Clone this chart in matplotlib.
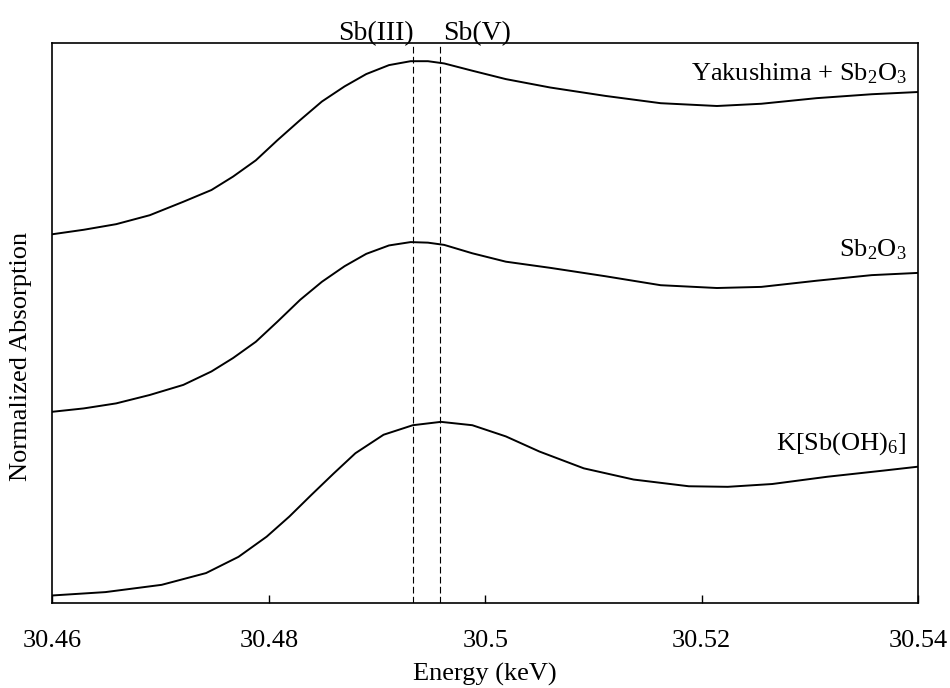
import numpy as np
import matplotlib
matplotlib.use("Agg")
import matplotlib.pyplot as plt
import matplotlib.transforms as mtransforms

# ========================
# DATA
# ========================
energy = [30.4600, 30.4629, 30.4659, 30.4690, 30.4721, 30.4747, 30.4767, 30.4788,
          30.4808, 30.4829, 30.4849, 30.4870, 30.4890, 30.4911, 30.4931, 30.4947,
          30.4962, 30.4988, 30.5019, 30.5060, 30.5111, 30.5162, 30.5214, 30.5255,
          30.5306, 30.5357, 30.5400]

yaku_A = [0.659, 0.667, 0.677, 0.693, 0.717, 0.738, 0.762, 0.791,
          0.827, 0.863, 0.896, 0.923, 0.945, 0.961, 0.968, 0.968,
          0.964, 0.951, 0.936, 0.921, 0.906, 0.893, 0.888, 0.892,
          0.902, 0.909, 0.913]

sb2o3_A = [0.342, 0.348, 0.357, 0.372, 0.390, 0.414, 0.438, 0.467,
           0.503, 0.542, 0.574, 0.602, 0.624, 0.639, 0.645, 0.644,
           0.640, 0.625, 0.610, 0.599, 0.584, 0.568, 0.563, 0.565,
           0.576, 0.586, 0.590]

ksb_E = [30.4600, 30.4649, 30.4701, 30.4742, 30.4772, 30.4798, 30.4819, 30.4839,
         30.4860, 30.4880, 30.4906, 30.4933, 30.4959, 30.4988, 30.5019, 30.5050,
         30.5091, 30.5137, 30.5188, 30.5224, 30.5265, 30.5316, 30.5368, 30.5400]
ksb_A = [0.014, 0.020, 0.033, 0.054, 0.083, 0.119, 0.155, 0.193,
         0.232, 0.268, 0.301, 0.318, 0.324, 0.318, 0.298, 0.271,
         0.241, 0.221, 0.209, 0.208, 0.213, 0.226, 0.237, 0.244]

sb3_E = 30.4933
sb5_E = 30.4958

xticks = [30.46, 30.48, 30.50, 30.52, 30.54]
xtick_labels = ["30.46", "30.48", "30.5", "30.52", "30.54"]

# ========================
# STYLE
# ========================
plt.rcParams["font.family"] = ["Liberation Serif", "DejaVu Serif"]
plt.rcParams["mathtext.fontset"] = "custom"
plt.rcParams["mathtext.rm"] = "Liberation Serif"
plt.rcParams["mathtext.it"] = "Liberation Serif:italic"

fig = plt.figure(figsize=(9.5, 6.88), dpi=100)
ax = fig.add_axes([0.0551, 0.1231, 0.9115, 0.8140])

# ========================
# PLOT
# ========================
ax.plot(energy, yaku_A, color="black", lw=1.4)
ax.plot(energy, sb2o3_A, color="black", lw=1.4)
ax.plot(ksb_E, ksb_A, color="black", lw=1.4)

ax.axvline(sb3_E, color="black", lw=0.8, dashes=(6, 3))
ax.axvline(sb5_E, color="black", lw=0.8, dashes=(6, 3))

ax.set_xlim(30.46, 30.54)
ax.set_ylim(0, 1)
ax.set_xticks(xticks)
ax.set_xticklabels(xtick_labels)
ax.set_yticks([])
ax.tick_params(axis="x", direction="in", length=6, width=1, pad=19, labelsize=19)

for s in ax.spines.values():
    s.set_linewidth(1.2)

ax.set_xlabel("Energy (keV)", fontsize=19, labelpad=8)
ax.set_ylabel("Normalized Absorption", fontsize=19)
ax.yaxis.set_label_coords(-0.024, 0.44)

# curve labels
ax.text(0.9864, 0.946, r"Yakushima + Sb$_2$O$_3$", transform=ax.transAxes,
        ha="right", va="center", fontsize=19)
ax.text(0.9864, 0.632, r"Sb$_2$O$_3$", transform=ax.transAxes,
        ha="right", va="center", fontsize=19)
ax.text(0.9864, 0.286, r"K[Sb(OH)$_6$]", transform=ax.transAxes,
        ha="right", va="center", fontsize=19)

# oxidation state labels above the frame
trans = mtransforms.blended_transform_factory(ax.transData, ax.transAxes)
ax.text(sb3_E + 0.0001, 1.017, "Sb(III)", transform=trans,
        ha="right", va="center", fontsize=20)
ax.text(sb5_E + 0.0003, 1.017, "Sb(V)", transform=trans,
        ha="left", va="center", fontsize=20)

plt.savefig("out.png", dpi=100)
